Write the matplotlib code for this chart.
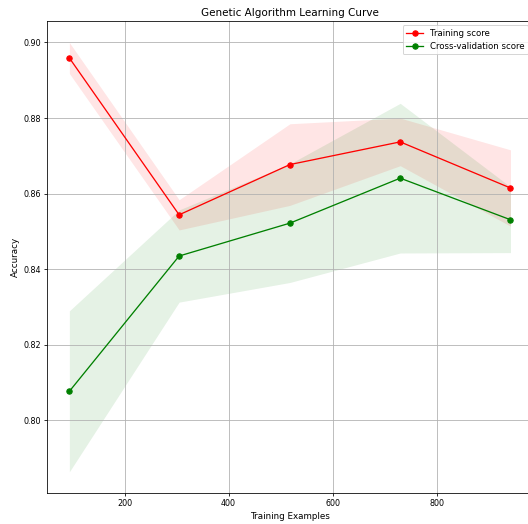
import matplotlib
matplotlib.use("Agg")
import matplotlib.pyplot as plt
import numpy as np

# learning curve values
train_sizes = [94, 305, 518, 730, 942]
train_mean = [0.8959, 0.8544, 0.8677, 0.8737, 0.8615]
train_std = [0.0041, 0.0040, 0.0108, 0.0063, 0.0101]
cv_mean = [0.8077, 0.8435, 0.8522, 0.8641, 0.8531]
cv_std = [0.0213, 0.0122, 0.0157, 0.0198, 0.0087]

# the reference looks like a default plot shrunk a bit, so scale sizes down
plt.rcParams.update({
    'font.size': 8.7,
    'xtick.labelsize': 8,
    'ytick.labelsize': 8,
    'legend.fontsize': 8.6,
    'axes.titlesize': 10.4,
    'xtick.major.size': 3,
    'ytick.major.size': 3,
    'xtick.major.pad': 3,
    'ytick.major.pad': 3,
    'axes.labelpad': 3.5,
    'lines.linewidth': 1.3,
    'lines.markersize': 5.4,
})

def plot_learning_curve():
    sizes = np.array(train_sizes)
    tr_m, tr_s = np.array(train_mean), np.array(train_std)
    cv_m, cv_s = np.array(cv_mean), np.array(cv_std)

    fig = plt.figure(figsize=(528 / 72, 524 / 72), dpi=72)
    # axes run a little past the right edge, like the cropped original
    ax = fig.add_axes([0.0896, 0.0586, 0.919, 0.9013])

    ax.fill_between(sizes, tr_m - tr_s, tr_m + tr_s, alpha=0.1, color='r', linewidth=0)
    ax.fill_between(sizes, cv_m - cv_s, cv_m + cv_s, alpha=0.1, color='g', linewidth=0)
    ax.plot(sizes, tr_m, 'o-', color='r', label='Training score')
    ax.plot(sizes, cv_m, 'o-', color='g', label='Cross-validation score')

    ax.set_title('Genetic Algorithm Learning Curve', pad=5)
    ax.set_xlabel('Training Examples')
    ax.set_ylabel('Accuracy')
    ax.grid(True)
    ax.legend(loc='upper right')

    fig.savefig('out.png', dpi=72)

def main():
    plot_learning_curve()

if __name__ == "__main__":
    main()
